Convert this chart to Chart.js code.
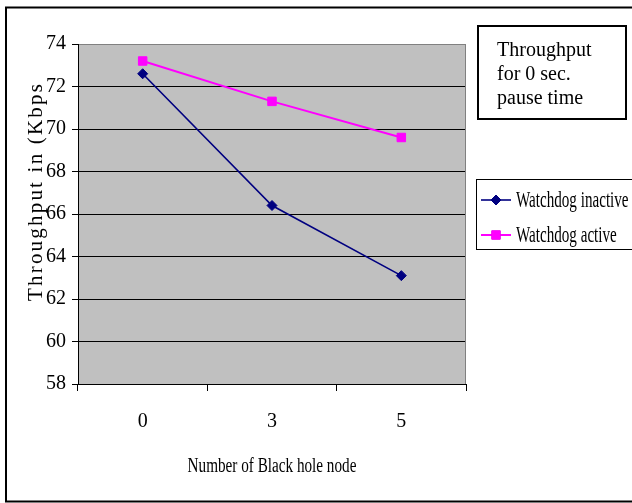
<!DOCTYPE html>
<html>
<head>
<meta charset="utf-8">
<script src="https://cdn.jsdelivr.net/npm/chart.js@4.4.0/dist/chart.umd.min.js"></script>
<style>
    html, body { margin: 0; padding: 0; background: #fff; }
    #wrap { width: 632px; height: 503px; }
</style>
</head>
<body>
<div id="wrap"><canvas id="chart" width="632" height="503"></canvas></div>
<script>
// --- Data ---
const blackHoleNodes = ['0', '3', '5'];
const watchdogInactive = [72.6, 66.4, 63.1];
const watchdogActive = [73.2, 71.3, 69.6];
const yTicks = [58, 60, 62, 64, 66, 68, 70, 72, 74];
const seriesLabels = ['Watchdog inactive', 'Watchdog active'];
const titleLines = ['Throughput', 'for 0 sec.', 'pause time'];
const xTitle = 'Number of Black hole node';
const yTitle = 'Throughput in (Kbps)';

const SERIF = '"Liberation Serif", "Times New Roman", serif';

/**
 * Draws text squeezed horizontally, like the stretched original.
 */
function squeezedText(ctx, text, x, y, scaleX, align) {
    ctx.save();
    ctx.translate(x, y);
    ctx.scale(scaleX, 1);
    ctx.textAlign = align || 'left';
    ctx.fillText(text, 0, 0);
    ctx.restore();
}

/**
 * Draws text one letter at a time with extra spacing.
 */
function spacedText(ctx, text, x, y, spacing) {
    let cx = x;
    for (const ch of text) {
        ctx.fillText(ch, cx, y);
        cx += ctx.measureText(ch).width + spacing;
    }
}

// Excel-style plot background, frame, title box, legend and axis titles
const excelLook = {
    id: 'excelLook',
    beforeDraw(chart) {
        const { ctx, chartArea: a } = chart;
        ctx.save();
        ctx.fillStyle = '#fff';
        ctx.fillRect(0, 0, chart.width, chart.height);
        ctx.fillStyle = '#C0C0C0';
        ctx.fillRect(a.left, a.top, a.right - a.left, a.bottom - a.top);
        ctx.strokeStyle = '#000';
        ctx.lineWidth = 2;
        ctx.strokeRect(6, 7.5, 700, 494);
        ctx.restore();
    },
    afterDraw(chart) {
        const { ctx, chartArea: a } = chart;
        ctx.save();

        // right edge of the plot area
        ctx.strokeStyle = '#808080';
        ctx.lineWidth = 1;
        ctx.beginPath();
        ctx.moveTo(a.right - 0.5, a.top);
        ctx.lineTo(a.right - 0.5, a.bottom);
        ctx.stroke();

        // title box
        ctx.strokeStyle = '#000';
        ctx.lineWidth = 2;
        ctx.strokeRect(478, 26, 148, 93);
        ctx.fillStyle = '#000';
        ctx.font = `20px ${SERIF}`;
        ctx.textBaseline = 'alphabetic';
        titleLines.forEach((line, i) => ctx.fillText(line, 497, 56 + i * 24));

        // legend
        ctx.lineWidth = 1;
        ctx.strokeRect(476.5, 179.5, 200, 70);
        ctx.font = `24px ${SERIF}`;
        chart.data.datasets.forEach((ds, i) => {
            const y = 200 + i * 35;
            ctx.strokeStyle = ds.borderColor;
            ctx.lineWidth = ds.borderWidth;
            ctx.beginPath();
            ctx.moveTo(481, y);
            ctx.lineTo(511, y);
            ctx.stroke();
            ctx.lineWidth = 1;
            Chart.helpers.drawPoint(ctx, {
                pointStyle: ds.pointStyle,
                rotation: 0,
                radius: ds.pointRadius,
                borderWidth: 1
            }, 496, y);
            ctx.fillStyle = ds.backgroundColor;
            ctx.fill();
            ctx.fillStyle = '#000';
            squeezedText(ctx, seriesLabels[i], 516, y + 7, 0.63);
        });

        // x axis title
        ctx.font = `20px ${SERIF}`;
        squeezedText(ctx, xTitle, (a.left + a.right) / 2, 472, 0.76, 'center');

        // y axis title, clipped at the top as in the original
        ctx.save();
        ctx.beginPath();
        ctx.rect(0, 83, 78, 420);
        ctx.clip();
        ctx.translate(42, 301);
        ctx.rotate(-Math.PI / 2);
        ctx.font = `21px ${SERIF}`;
        ctx.textAlign = 'left';
        spacedText(ctx, yTitle, 0, 0, 2.2);
        ctx.restore();

        ctx.restore();
    }
};

const ctx = document.getElementById('chart').getContext('2d');
new Chart(ctx, {
    type: 'line',
    data: {
        labels: blackHoleNodes,
        datasets: [
            {
                label: seriesLabels[0],
                data: watchdogInactive,
                borderColor: '#000080',
                backgroundColor: '#000080',
                borderWidth: 1.6,
                pointStyle: 'rectRot',
                pointRadius: 5,
                pointBorderWidth: 1
            },
            {
                label: seriesLabels[1],
                data: watchdogActive,
                borderColor: '#FF00FF',
                backgroundColor: '#FF00FF',
                borderWidth: 2,
                pointStyle: 'rect',
                pointRadius: 6,
                pointBorderWidth: 1
            }
        ]
    },
    options: {
        responsive: false,
        animation: false,
        devicePixelRatio: 1,
        layout: { padding: { left: 0, top: 44, right: 166, bottom: 0 } },
        plugins: {
            legend: { display: false },
            tooltip: { enabled: false }
        },
        scales: {
            x: {
                offset: true,
                grid: { offset: true, drawOnChartArea: false, color: '#000', tickLength: 7 },
                border: { color: '#000' },
                ticks: { color: '#000', font: { family: SERIF, size: 20 }, padding: 19 },
                afterFit: s => { s.height = 119; }
            },
            y: {
                min: 58,
                max: 74,
                afterBuildTicks: s => { s.ticks = yTicks.map(v => ({ value: v })); },
                ticks: { color: '#000', font: { family: SERIF, size: 20 }, padding: 6 },
                grid: {
                    color: c => (c.tick && c.tick.value === 74 ? '#808080' : '#000'),
                    tickColor: '#000',
                    tickLength: 6
                },
                border: { color: '#000' },
                afterFit: s => { s.width = 78; }
            }
        }
    },
    plugins: [excelLook]
});
</script>
</body>
</html>
